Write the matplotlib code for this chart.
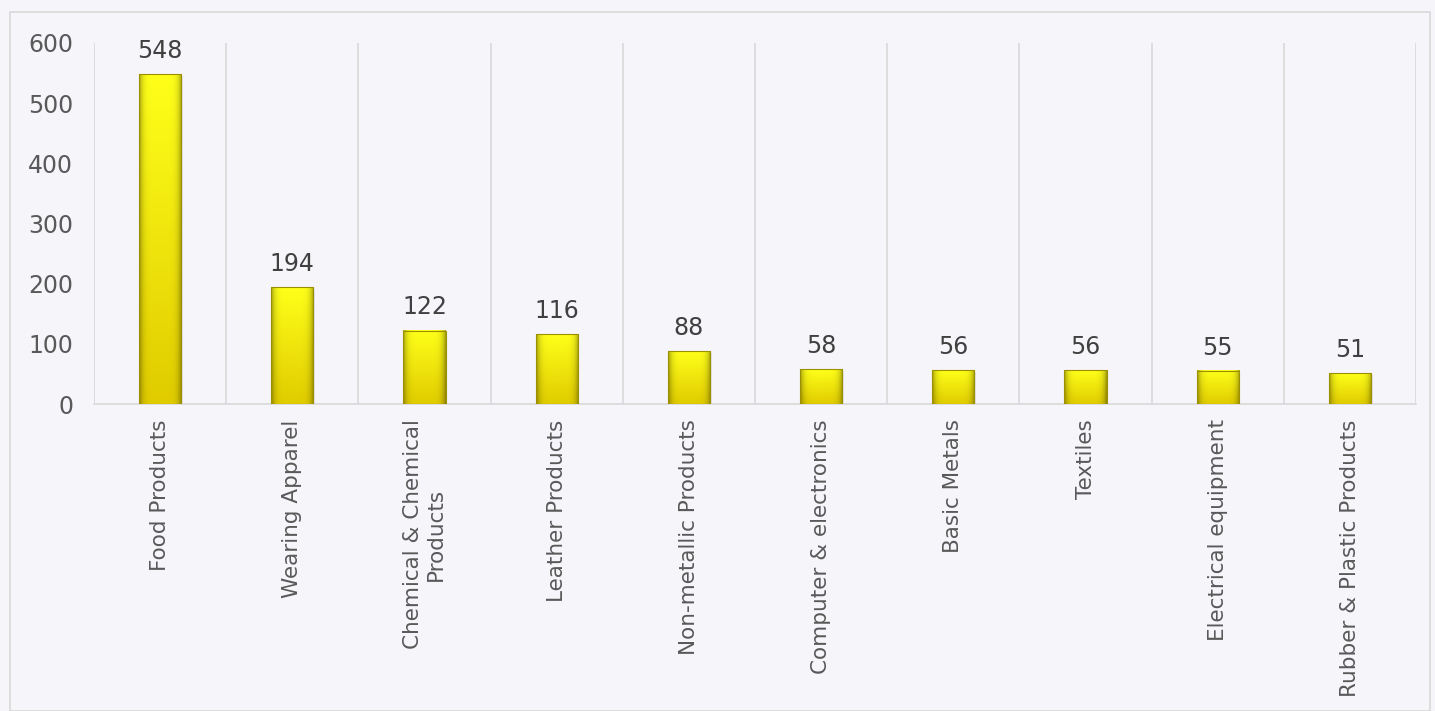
import matplotlib.pyplot as plt
import numpy as np
from matplotlib.patches import Rectangle

categories = ["Food Products", "Wearing Apparel", "Chemical & Chemical\nProducts",
              "Leather Products", "Non-metallic Products", "Computer & electronics",
              "Basic Metals", "Textiles", "Electrical equipment", "Rubber & Plastic Products"]
values = [548, 194, 122, 116, 88, 58, 56, 56, 55, 51]
yticks = [0, 100, 200, 300, 400, 500, 600]

bg = '#F5F5FA'
fig = plt.figure(figsize=(14.35, 7.11), dpi=100, facecolor=bg)
fig.patches.append(Rectangle((10/1435, 0), 1420/1435, 1 - 12/711, transform=fig.transFigure,
                             fill=False, edgecolor='#D9D9D9', linewidth=1.2))
ax = fig.add_axes([94/1435, 1 - 404/711, 1322/1435, 361/711])
ax.set_facecolor(bg)

n = len(values)
x = np.arange(n)
w = 0.32

# vertical gradient: bright yellow top -> gold bottom; darker at the sides
vgrad = np.linspace(1.0, 0.0, 100)[:, None]
hgrad = 1 - 0.35 * (np.abs(np.linspace(-1, 1, 40))[None, :] ** 6)
top = np.array([1.0, 1.0, 0.1])
bot = np.array([0.88, 0.80, 0.0])
img = (bot[None, None, :] + (top - bot)[None, None, :] * vgrad[:, :, None]) * hgrad[:, :, None]
img = np.clip(img, 0, 1)

for xi, v in zip(x, values):
    # soft shadow
    ax.add_patch(Rectangle((xi - w/2 + 0.012, -3), w, v, facecolor='#000000', alpha=0.08,
                           edgecolor='none', zorder=2))
    ax.imshow(img, extent=(xi - w/2, xi + w/2, 0, v), aspect='auto', zorder=3, interpolation='bilinear')
    ax.add_patch(Rectangle((xi - w/2, 0), w, v, fill=False, edgecolor='#9C8F00', linewidth=0.8, zorder=4))
    ax.annotate(str(v), (xi, v), xytext=(0, 8), textcoords='offset points',
                ha='center', va='bottom', fontsize=17, color='#404040')

# category separators
for b in np.arange(n + 1) - 0.5:
    ax.axvline(b, color='#D9D9D9', linewidth=1.2, zorder=1)

ax.set_xlim(-0.5, n - 0.5)
ax.set_ylim(0, 600)
ax.set_yticks(yticks)
ax.set_xticks(x)
ax.set_xticklabels(categories, rotation=90, fontsize=15.5, color='#595959',
                   ha='center', va='top', multialignment='center')
ax.tick_params(axis='y', labelsize=17, labelcolor='#595959', length=0, pad=15)
ax.tick_params(axis='x', length=0, pad=11)
for s in ['top', 'right', 'left']:
    ax.spines[s].set_visible(False)
ax.spines['bottom'].set_color('#D9D9D9')
ax.spines['bottom'].set_linewidth(1.2)

fig.savefig('out.png', dpi=100, facecolor=bg)
